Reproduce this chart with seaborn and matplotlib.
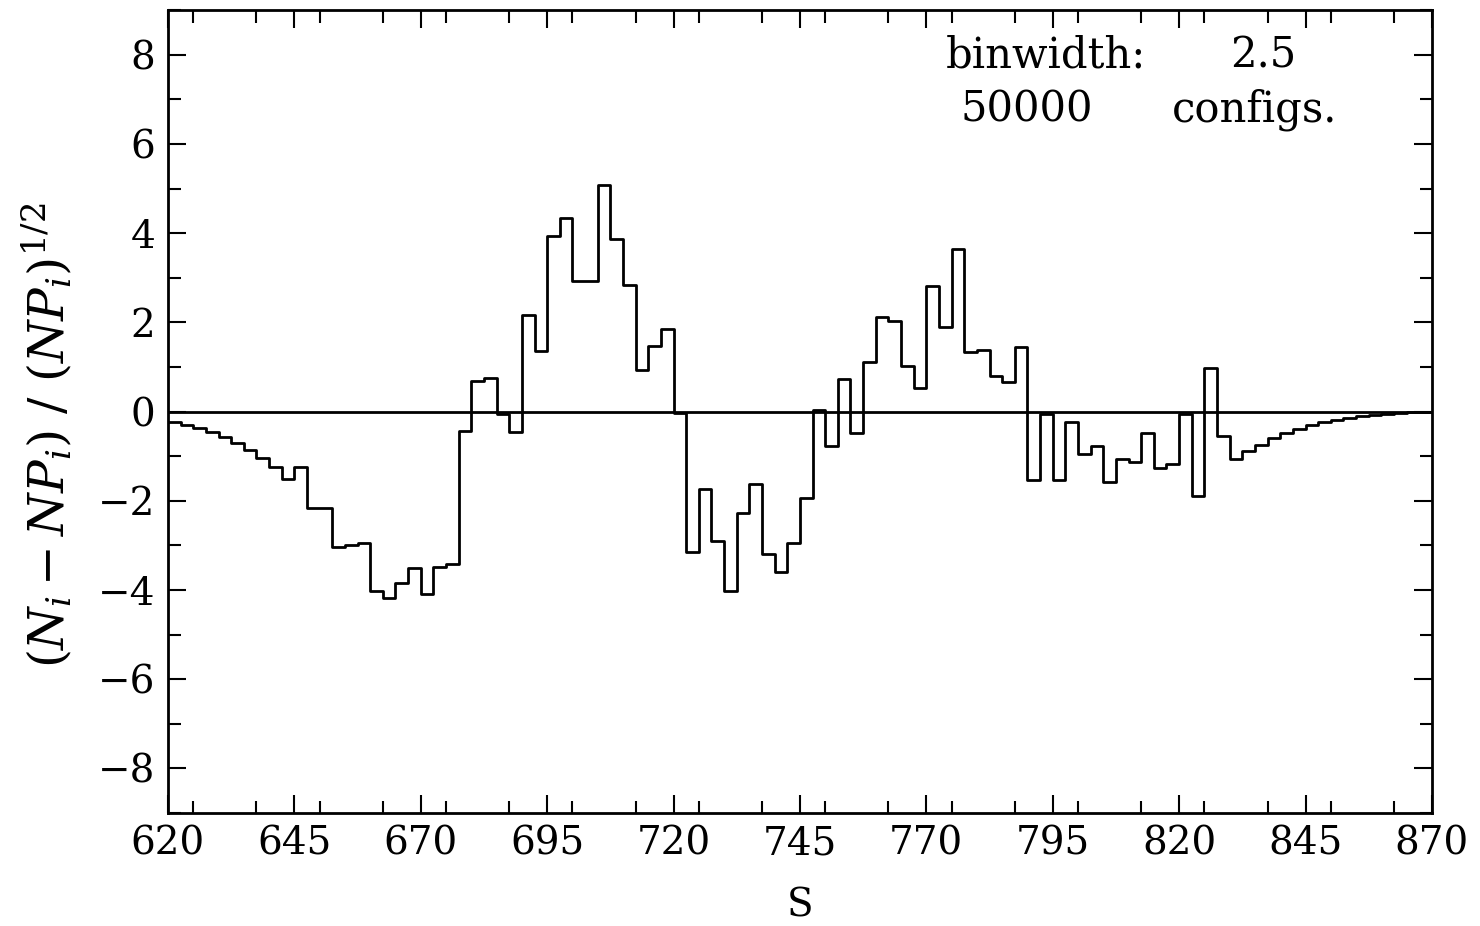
import numpy as np
import pandas as pd
import matplotlib
matplotlib.use("Agg")
import matplotlib.pyplot as plt
import seaborn as sns
from matplotlib.ticker import MultipleLocator

# bin settings
s_start = 620.0
binwidth = 2.5
n_configs = 50000

# normalised deviation per bin (100 bins, 620..870)
dev = [
    -0.24, -0.29, -0.37, -0.46, -0.56, -0.70, -0.85, -1.03, -1.25, -1.50,
    -1.24, -2.16, -2.17, -3.03, -3.00, -2.95, -4.03, -4.19, -3.84, -3.51,
    -4.10, -3.49, -3.42, -0.43,
    0.68, 0.76, -0.05, -0.45, 2.16, 1.35, 3.93, 4.34, 2.92, 2.92,
    5.08, 3.87, 2.84, 0.93, 1.48, 1.86, -0.03,
    -3.14, -1.74, -2.91, -4.03, -2.28, -1.63, -3.20, -3.59, -2.95,
    -1.94, 0.03, -0.77,
    0.73, -0.49, 1.12, 2.11, 2.03, 1.02, 0.53, 2.81, 1.89, 3.64,
    1.34, 1.39, 0.79, 0.67, 1.44,
    -1.53, -0.05, -1.53, -0.24, -0.95, -0.77, -1.57, -1.07, -1.12, -0.47,
    -1.27, -1.17, -0.05, -1.90, 0.97, -0.55, -1.07, -0.89, -0.74, -0.60,
    -0.49, -0.39, -0.31, -0.24, -0.19, -0.14, -0.10, -0.07, -0.05, -0.03,
    -0.02, -0.01,
]
xticks = [620, 645, 670, 695, 720, 745, 770, 795, 820, 845, 870]

sns.set_style("ticks")
plt.rcParams["font.family"] = ["DejaVu Serif"]
plt.rcParams["mathtext.fontset"] = "dejavuserif"
plt.rcParams["text.color"] = "black"
plt.rcParams["axes.labelcolor"] = "black"

# step line: left edges plus the closing edge
edges = s_start + binwidth * np.arange(len(dev) + 1)
df = pd.DataFrame({"S": edges, "dev": dev + [dev[-1]]})

fig = plt.figure(figsize=(14.8, 9.26), dpi=100)
ax = fig.add_axes([0.1135, 0.122, 0.854, 0.867])

sns.lineplot(data=df, x="S", y="dev", drawstyle="steps-post", color="black",
             lw=2, estimator=None, ax=ax)
ax.axhline(0, color="black", lw=2)

ax.set_xlim(620, 870)
ax.set_ylim(-9, 9)
ax.set_xticks(xticks)
ax.xaxis.set_minor_locator(MultipleLocator(12.5))
ax.yaxis.set_major_locator(MultipleLocator(2))
ax.yaxis.set_minor_locator(MultipleLocator(1))
ax.tick_params(which="both", direction="in", top=True, right=True,
               width=1.5, color="black", labelcolor="black",
               labelsize=28, pad=9)
ax.tick_params(which="major", length=13)
ax.tick_params(which="minor", length=9)
for sp in ax.spines.values():
    sp.set_visible(True)
    sp.set_linewidth(2)
    sp.set_color("black")

ax.set_xlabel("S", fontsize=28, labelpad=18)
ax.set_ylabel(r"$(N_i - NP_i)\ /\ (NP_i)^{1/2}$", fontsize=35)
ax.yaxis.set_label_coords(-0.074, 0.47)

ax.text(0.615, 0.928, "binwidth:", transform=ax.transAxes, fontsize=30,
        ha="left", va="baseline")
ax.text(0.840, 0.928, str(binwidth), transform=ax.transAxes, fontsize=30,
        ha="left", va="baseline")
ax.text(0.627, 0.861, str(n_configs), transform=ax.transAxes, fontsize=30,
        ha="left", va="baseline")
ax.text(0.794, 0.861, "configs.", transform=ax.transAxes, fontsize=30,
        ha="left", va="baseline")

fig.savefig("out.png", dpi=100)
